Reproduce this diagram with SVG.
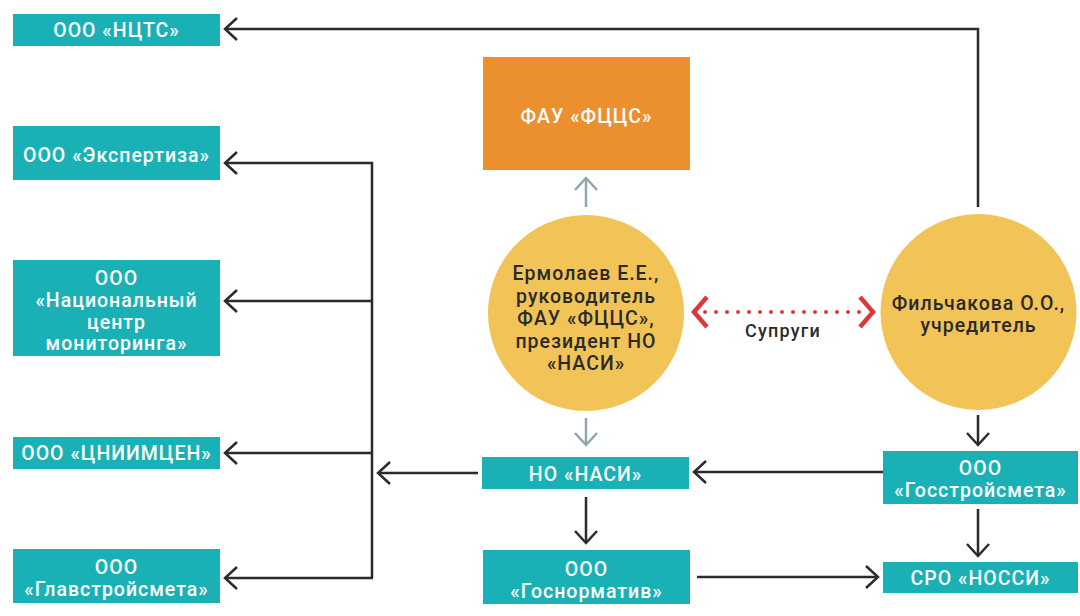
<svg xmlns="http://www.w3.org/2000/svg" width="1080" height="616" viewBox="0 0 1080 616">
  <defs>
    <style>
      .box { fill: #19B1B5; }
      .org { fill: #EC8F2F; }
      .circ { fill: #F2C357; }
      .wt { font-family: Roboto, "Liberation Sans", sans-serif; font-weight: 500; font-size: 19.5px; fill: #ffffff; text-anchor: middle; letter-spacing: 1px; }
      .dt { font-family: Roboto, "Liberation Sans", sans-serif; font-weight: 500; font-size: 19.5px; fill: #2a2a2a; text-anchor: middle; letter-spacing: 1px; }
      .lbl { font-family: Roboto, "Liberation Sans", sans-serif; font-weight: 500; font-size: 18px; fill: #2a2a2a; text-anchor: middle; letter-spacing: 1.2px; }
      .ln { fill: none; stroke: #2b2b2b; stroke-width: 2.5; }
      .gl { fill: none; stroke: #8FA6B2; stroke-width: 2.5; }
      .rd { fill: none; stroke: #D83A3C; stroke-width: 4; stroke-linecap: round; stroke-dasharray: 0 11; }
    </style>
    <marker id="ah" viewBox="-14 -13 16 26" markerUnits="userSpaceOnUse" markerWidth="16" markerHeight="26" refX="0" refY="0" orient="auto" overflow="visible">
      <path d="M-12,-11 L0,0 L-12,11" fill="none" stroke="#2b2b2b" stroke-width="2.5"/>
    </marker>
    <marker id="ahg" viewBox="-14 -13 16 26" markerUnits="userSpaceOnUse" markerWidth="16" markerHeight="26" refX="0" refY="0" orient="auto" overflow="visible">
      <path d="M-12,-11 L0,0 L-12,11" fill="none" stroke="#8FA6B2" stroke-width="2.5"/>
    </marker>
    <marker id="ahr" viewBox="-18 -18 20 36" markerUnits="userSpaceOnUse" markerWidth="20" markerHeight="36" refX="0" refY="0" orient="auto-start-reverse" overflow="visible">
      <path d="M-13,-15 L0,0 L-13,15" fill="none" stroke="#D83A3C" stroke-width="4.5"/>
    </marker>
  </defs>

  <g id="connectors">
    <polyline class="ln" points="978,207 978,29 225,29" marker-end="url(#ah)"/>
    <polyline class="ln" points="372,578 372,163 225,163" marker-end="url(#ah)"/>
    <line class="ln" x1="372" y1="301" x2="225" y2="301" marker-end="url(#ah)"/>
    <line class="ln" x1="372" y1="453" x2="225" y2="453" marker-end="url(#ah)"/>
    <line class="ln" x1="373" y1="578" x2="225" y2="578" marker-end="url(#ah)"/>
    <line class="ln" x1="478" y1="473" x2="378" y2="473" marker-end="url(#ah)"/>
    <line class="gl" x1="586" y1="207" x2="586" y2="178" marker-end="url(#ahg)"/>
    <line class="gl" x1="586" y1="418" x2="586" y2="445" marker-end="url(#ahg)"/>
    <line class="ln" x1="586" y1="497" x2="586" y2="543" marker-end="url(#ah)"/>
    <line class="ln" x1="978" y1="415" x2="978" y2="445" marker-end="url(#ah)"/>
    <line class="ln" x1="978" y1="509" x2="978" y2="556" marker-end="url(#ah)"/>
    <line class="ln" x1="883" y1="472" x2="694" y2="472" marker-end="url(#ah)"/>
    <line class="ln" x1="697" y1="577" x2="878" y2="577" marker-end="url(#ah)"/>
    <line class="rd" x1="705" y1="312" x2="861" y2="312"/>
    <line fill="none" stroke="none" x1="694" y1="312" x2="873" y2="312" marker-start="url(#ahr)" marker-end="url(#ahr)"/>
    <text class="lbl" x="783" y="337">Супруги</text>
  </g>

  <g id="n-ncts">
    <rect class="box" x="13" y="14" width="207" height="32"/>
    <text class="wt" x="116.5" y="37">ООО «НЦТС»</text>
  </g>
  <g id="n-expertiza">
    <rect class="box" x="13" y="126" width="207" height="54"/>
    <text class="wt" x="116.5" y="162">ООО «Экспертиза»</text>
  </g>
  <g id="n-ncm">
    <rect class="box" x="13" y="260" width="207" height="96"/>
    <text class="wt" x="116.5" y="285">ООО</text>
    <text class="wt" x="116.5" y="307">«Национальный</text>
    <text class="wt" x="116.5" y="328.5">центр</text>
    <text class="wt" x="116.5" y="350">мониторинга»</text>
  </g>
  <g id="n-cniimcen">
    <rect class="box" x="13" y="437" width="207" height="32"/>
    <text class="wt" x="116.5" y="460">ООО «ЦНИИМЦЕН»</text>
  </g>
  <g id="n-glav">
    <rect class="box" x="13" y="549" width="207" height="54"/>
    <text class="wt" x="116.5" y="574">ООО</text>
    <text class="wt" x="116.5" y="596">«Главстройсмета»</text>
  </g>
  <g id="n-fau">
    <rect class="org" x="483" y="57" width="207" height="113"/>
    <text class="wt" x="586.5" y="123">ФАУ «ФЦЦС»</text>
  </g>
  <g id="n-ermolaev">
    <circle class="circ" cx="586" cy="313" r="98"/>
    <text class="dt" x="586" y="280">Ермолаев Е.Е.,</text>
    <text class="dt" x="586" y="302.5">руководитель</text>
    <text class="dt" x="586" y="325">ФАУ «ФЦЦС»,</text>
    <text class="dt" x="586" y="347.5">президент НО</text>
    <text class="dt" x="586" y="370">«НАСИ»</text>
  </g>
  <g id="n-filchakova">
    <circle class="circ" cx="978.5" cy="312" r="98"/>
    <text class="dt" x="978.5" y="310">Фильчакова О.О.,</text>
    <text class="dt" x="978.5" y="332">учредитель</text>
  </g>
  <g id="n-nasi">
    <rect class="box" x="482" y="457" width="207" height="32"/>
    <text class="wt" x="585.5" y="481">НО «НАСИ»</text>
  </g>
  <g id="n-gosnormativ">
    <rect class="box" x="483" y="550" width="207" height="54"/>
    <text class="wt" x="586.5" y="575.5">ООО</text>
    <text class="wt" x="586.5" y="597.5">«Госнорматив»</text>
  </g>
  <g id="n-gosstroismeta">
    <rect class="box" x="883" y="451" width="195" height="53"/>
    <text class="wt" x="980.5" y="475">ООО</text>
    <text class="wt" x="980.5" y="497">«Госстройсмета»</text>
  </g>
  <g id="n-nossi">
    <rect class="box" x="883" y="562" width="195" height="31"/>
    <text class="wt" x="980.5" y="584.5">СРО «НОССИ»</text>
  </g>
</svg>
